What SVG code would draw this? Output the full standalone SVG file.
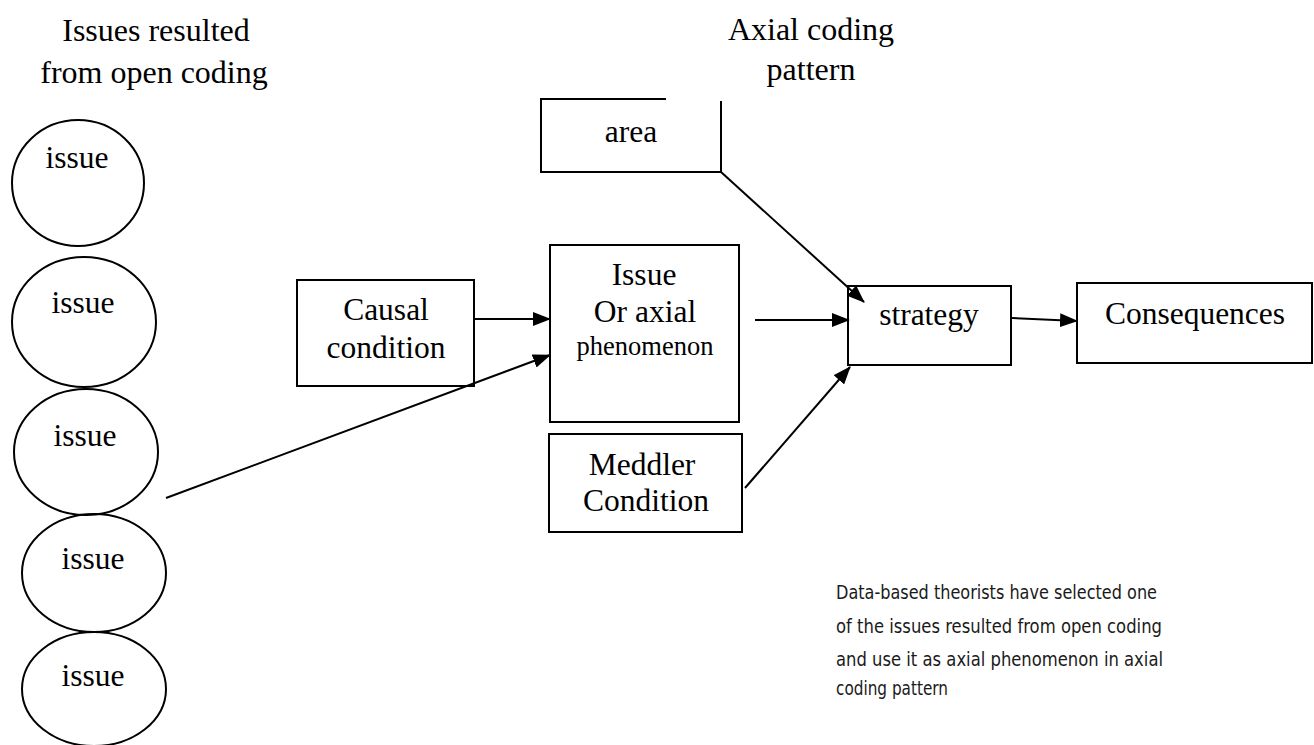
<svg xmlns="http://www.w3.org/2000/svg" width="1314" height="745" viewBox="0 0 1314 745">
<style>
.bg{fill:#fff}
.shape{fill:none;stroke:#000;stroke-width:2}
.t{font-family:"Liberation Serif","Times New Roman",serif;font-size:31.5px;fill:#000;text-anchor:middle}
.h{font-size:32px}
.sm{font-size:26.5px}
.s{font-family:"DejaVu Sans",Verdana,sans-serif;font-size:20px;fill:#1a1a1a}
.ln{stroke:#000;stroke-width:2;fill:none}
</style>
<defs>
<marker id="ah" markerUnits="userSpaceOnUse" markerWidth="18" markerHeight="14" viewBox="0 0 18 14" refX="17" refY="7" orient="auto">
<path d="M0,0 L18,7 L0,14 Z" fill="#000"/>
</marker>
</defs>
<rect class="bg" width="1314" height="745"/>
<g id="titles">
<text class="t h" x="156" y="41">Issues resulted</text>
<text class="t h" x="154" y="83">from open coding</text>
<text class="t h" x="811" y="40">Axial coding</text>
<text class="t h" x="811" y="80">pattern</text>
</g>
<g id="issue1"><ellipse class="shape" cx="78" cy="183" rx="66" ry="63"/><text class="t" x="77" y="168">issue</text></g>
<g id="issue2"><ellipse class="shape" cx="84" cy="322" rx="72" ry="65"/><text class="t" x="83" y="313">issue</text></g>
<g id="issue3"><ellipse class="shape" cx="86" cy="452" rx="72" ry="63"/><text class="t" x="85" y="446">issue</text></g>
<g id="issue4"><ellipse class="shape" cx="94" cy="573" rx="72" ry="59"/><text class="t" x="93" y="569">issue</text></g>
<g id="issue5"><ellipse class="shape" cx="94" cy="689" rx="72" ry="57"/><text class="t" x="93" y="686">issue</text></g>
<g id="area">
<path class="shape" d="M666,99 H541 V172 H721 V101"/>
<text class="t" x="631" y="142">area</text>
</g>
<g id="causal">
<rect class="shape" x="297" y="280" width="177" height="106"/>
<text class="t" x="386" y="320">Causal</text>
<text class="t" x="386" y="358">condition</text>
</g>
<g id="phenomenon">
<rect class="shape" x="550" y="245" width="189" height="177"/>
<text class="t" x="644" y="285">Issue</text>
<text class="t" x="645" y="322">Or axial</text>
<text class="t sm" x="645" y="355">phenomenon</text>
</g>
<g id="meddler">
<rect class="shape" x="549" y="434" width="193" height="98"/>
<text class="t" x="642" y="475">Meddler</text>
<text class="t" x="646" y="511">Condition</text>
</g>
<g id="strategy">
<rect class="shape" x="848" y="286" width="163" height="79"/>
<text class="t" x="929" y="325">strategy</text>
</g>
<g id="consequences">
<rect class="shape" x="1077" y="283" width="235" height="80"/>
<text class="t" x="1195" y="324">Consequences</text>
</g>
<g id="connectors">
<line class="ln" x1="474" y1="319" x2="550" y2="319" marker-end="url(#ah)"/>
<line class="ln" x1="166" y1="498" x2="550" y2="355" marker-end="url(#ah)"/>
<line class="ln" x1="721" y1="172" x2="864" y2="302" marker-end="url(#ah)"/>
<line class="ln" x1="755" y1="320" x2="849" y2="320" marker-end="url(#ah)"/>
<line class="ln" x1="745" y1="488" x2="850" y2="367" marker-end="url(#ah)"/>
<line class="ln" x1="1012" y1="318" x2="1077" y2="321" marker-end="url(#ah)"/>
</g>
<g id="note">
<text class="s" x="836" y="599" textLength="321" lengthAdjust="spacingAndGlyphs">Data-based theorists have selected one</text>
<text class="s" x="836" y="633" textLength="326" lengthAdjust="spacingAndGlyphs">of the issues resulted from open coding</text>
<text class="s" x="836" y="666" textLength="327" lengthAdjust="spacingAndGlyphs">and use it as axial phenomenon in axial</text>
<text class="s" x="836" y="695" textLength="112" lengthAdjust="spacingAndGlyphs">coding pattern</text>
</g>
</svg>
